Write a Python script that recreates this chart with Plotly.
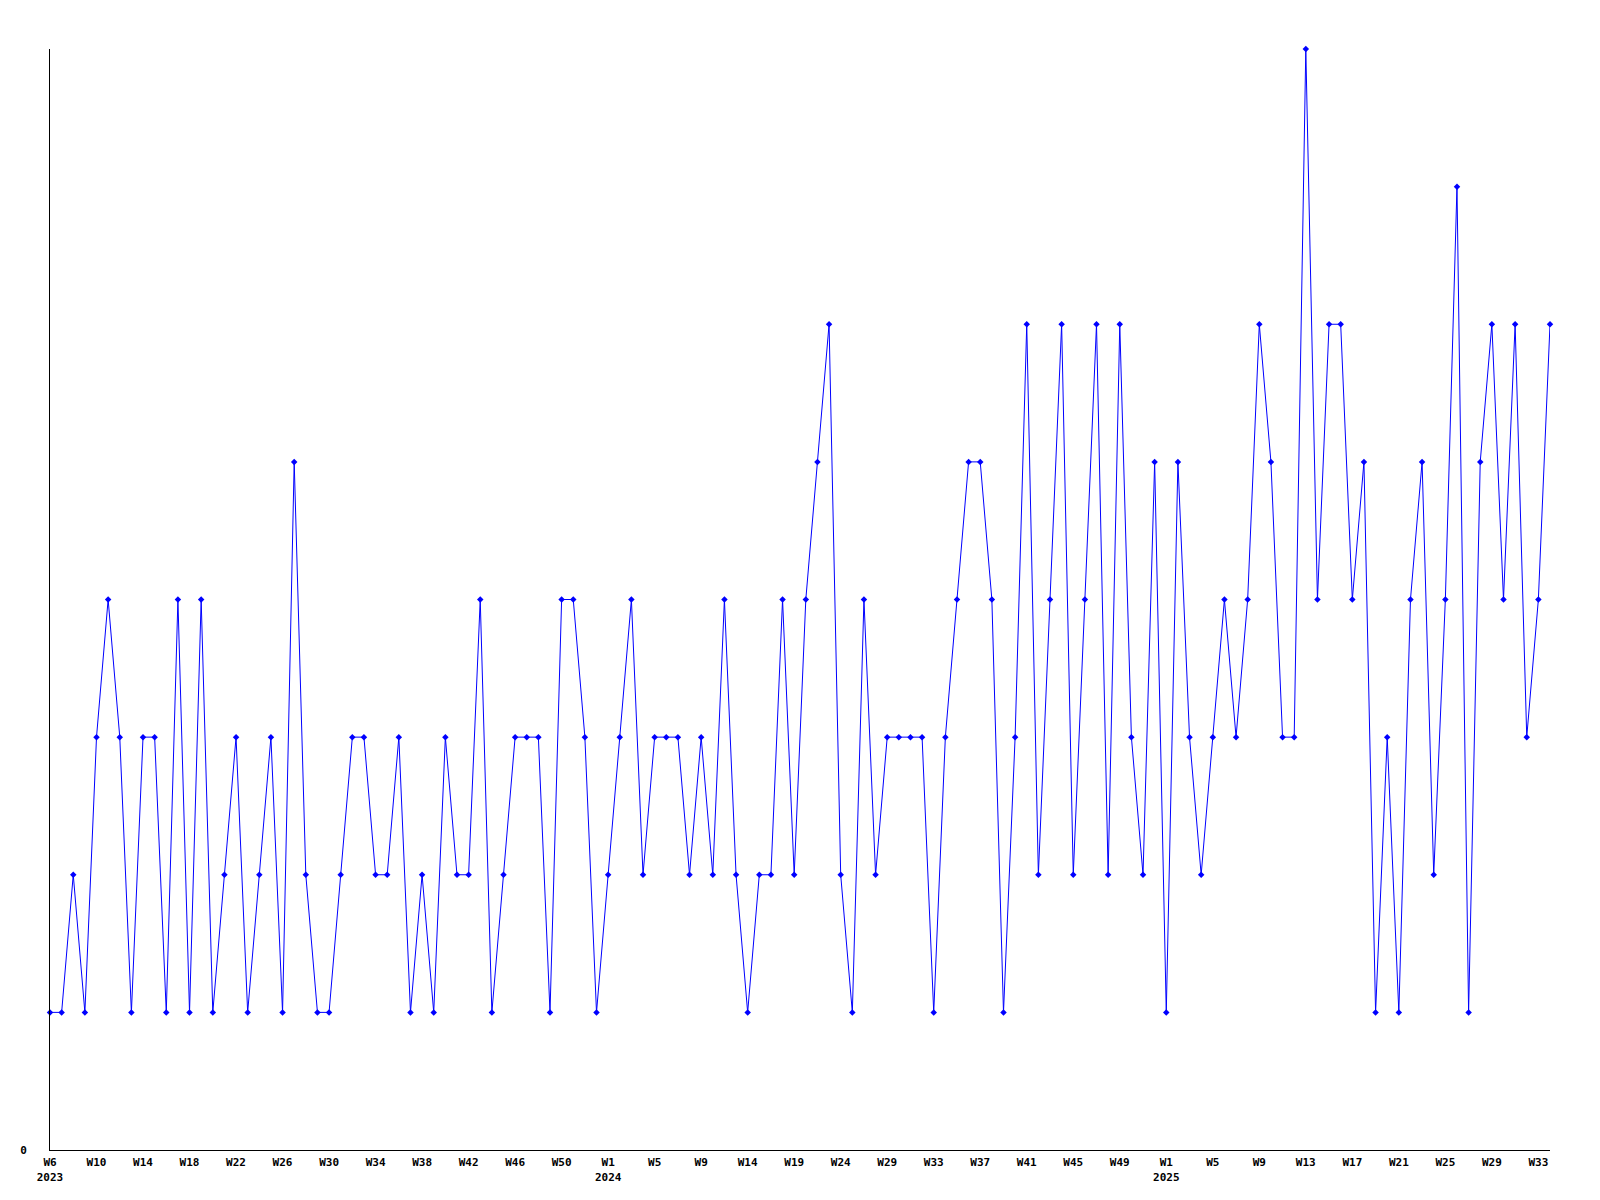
import plotly.graph_objects as go

# Weekly counts, one per point (2023 W6 ... 2025 W34)
values = [
    1, 1, 2, 1, 3, 4, 3, 1, 3, 3, 1, 4, 1, 4, 1, 2, 3, 1, 2, 3,
    1, 5, 2, 1, 1, 2, 3, 3, 2, 2, 3, 1, 2, 1, 3, 2, 2, 4, 1, 2,
    3, 3, 3, 1, 4, 4, 3, 1, 2, 3, 4, 2, 3, 3, 3, 2, 3, 2, 4, 2,
    1, 2, 2, 4, 2, 4, 5, 6, 2, 1, 4, 2, 3, 3, 3, 3, 1, 3, 4, 5,
    5, 4, 1, 3, 6, 2, 4, 6, 2, 4, 6, 2, 6, 3, 2, 5, 1, 5, 3, 2,
    3, 4, 3, 4, 6, 5, 3, 3, 8, 4, 6, 6, 4, 5, 1, 3, 1, 4, 5, 2,
    4, 7, 1, 5, 6, 4, 6, 3, 4, 6,
]

# Tick labels, one every 4 points
tick_labels = [
    "W6<br>2023", "W10", "W14", "W18", "W22", "W26", "W30", "W34", "W38",
    "W42", "W46", "W50",
    "W1<br>2024", "W5", "W9", "W14", "W19", "W24", "W29", "W33", "W37",
    "W41", "W45", "W49",
    "W1<br>2025", "W5", "W9", "W13", "W17", "W21", "W25", "W29", "W33",
]
tick_step = 4

x = list(range(len(values)))
tickvals = [i * tick_step for i in range(len(tick_labels))]

fig = go.Figure()
fig.add_trace(go.Scatter(
    x=x, y=values, mode="lines+markers",
    line=dict(color="#0000ff", width=1),
    marker=dict(color="#0000ff", symbol="diamond", size=5),
    cliponaxis=False,
    hoverinfo="x+y",
))

font = dict(family="DejaVu Sans Mono", size=11, color="black", weight="bold")

fig.update_layout(
    width=1584, height=1184,
    margin=dict(l=42, r=42, t=41, b=42),
    paper_bgcolor="white", plot_bgcolor="white",
    showlegend=False,
    font=font,
    xaxis=dict(
        range=[0, len(values) - 1],
        tickmode="array", tickvals=tickvals, ticktext=tick_labels,
        showgrid=False, zeroline=False, automargin=False,
        showline=True, linecolor="black", linewidth=1,
        ticks="", tickangle=0, tickfont=font, ticklabelstandoff=2,
    ),
    yaxis=dict(
        range=[0, 8],
        tickmode="array", tickvals=[0], ticktext=["0"],
        showgrid=False, zeroline=False, automargin=False,
        showline=True, linecolor="black", linewidth=1,
        ticks="", tickfont=font, ticklabelstandoff=20,
    ),
)

fig.write_html("out.html")
